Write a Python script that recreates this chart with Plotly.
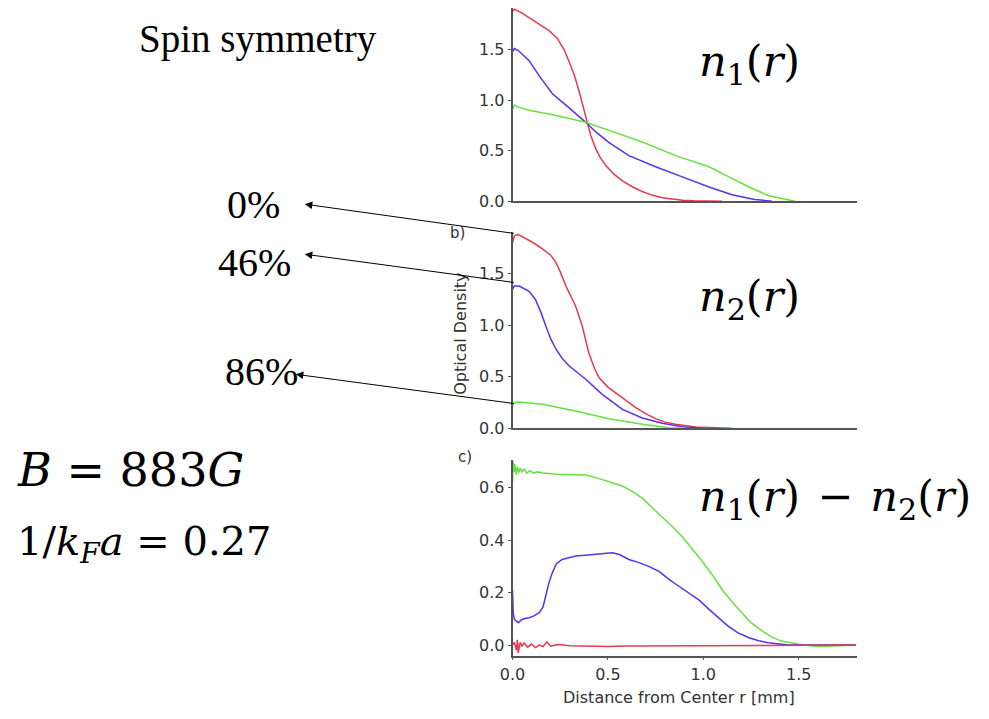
import plotly.graph_objects as go

# ---------------- data ----------------
# panel a: n1(r)
a_red_r = [0, 0.01, 0.05, 0.1, 0.15, 0.19, 0.235, 0.27, 0.297, 0.325, 0.35, 0.37, 0.384, 0.41, 0.436, 0.46, 0.49, 0.53, 0.576, 0.63, 0.68, 0.73, 0.785, 0.84, 0.89, 0.95, 1.03, 1.1]
a_red_y = [1.88, 1.90, 1.86, 1.80, 1.74, 1.69, 1.61, 1.50, 1.38, 1.24, 1.08, 0.94, 0.815, 0.65, 0.52, 0.43, 0.35, 0.27, 0.20, 0.14, 0.096, 0.06, 0.033, 0.018, 0.01, 0.004, 0.0, 0.0]
a_blue_r = [0, 0.01, 0.03, 0.087, 0.14, 0.21, 0.28, 0.33, 0.384, 0.44, 0.506, 0.61, 0.75, 0.89, 1.03, 1.15, 1.27, 1.36]
a_blue_y = [1.48, 1.51, 1.49, 1.39, 1.24, 1.06, 0.95, 0.87, 0.78, 0.68, 0.58, 0.45, 0.34, 0.24, 0.14, 0.063, 0.017, 0.0]
a_green_r = [0, 0.01, 0.03, 0.087, 0.21, 0.384, 0.506, 0.68, 0.855, 1.03, 1.134, 1.24, 1.34, 1.43, 1.48]
a_green_y = [0.91, 0.95, 0.93, 0.90, 0.855, 0.78, 0.70, 0.585, 0.45, 0.34, 0.24, 0.14, 0.056, 0.017, 0.0]

# panel b: n2(r)
b_red_r = [0, 0.01, 0.03, 0.1, 0.157, 0.2, 0.227, 0.25, 0.28, 0.33, 0.366, 0.38, 0.40, 0.43, 0.454, 0.5, 0.54, 0.6, 0.646, 0.7, 0.75, 0.8, 0.855, 0.96, 1.06, 1.15]
b_red_y = [1.80, 1.87, 1.88, 1.81, 1.74, 1.68, 1.61, 1.52, 1.38, 1.19, 0.99, 0.88, 0.73, 0.58, 0.49, 0.40, 0.346, 0.26, 0.20, 0.14, 0.094, 0.06, 0.039, 0.013, 0.003, 0.0]
b_blue_r = [0, 0.01, 0.035, 0.087, 0.12, 0.15, 0.175, 0.2, 0.227, 0.26, 0.297, 0.384, 0.47, 0.576, 0.68, 0.785, 0.89, 0.995]
b_blue_y = [1.35, 1.38, 1.38, 1.33, 1.25, 1.12, 0.99, 0.87, 0.77, 0.68, 0.605, 0.476, 0.33, 0.184, 0.10, 0.049, 0.016, 0.0]
b_green_r = [0, 0.01, 0.035, 0.157, 0.33, 0.506, 0.68, 0.82, 0.9]
b_green_y = [0.22, 0.25, 0.255, 0.233, 0.168, 0.094, 0.039, 0.006, 0.0]

# panel c: n1(r) - n2(r)
c_green_r = [0, 0.003, 0.007, 0.012, 0.018, 0.025, 0.032, 0.04, 0.05, 0.06, 0.075, 0.09, 0.11, 0.13, 0.157, 0.2, 0.25, 0.296, 0.34, 0.383, 0.43, 0.47, 0.52, 0.575, 0.63, 0.68, 0.73, 0.784, 0.84, 0.888, 0.94, 0.993, 1.05, 1.10, 1.15, 1.20, 1.25, 1.31, 1.36, 1.41, 1.46, 1.50, 1.55, 1.60, 1.65, 1.70, 1.75, 1.80]
c_green_y = [0.62, 0.70, 0.66, 0.69, 0.65, 0.68, 0.655, 0.675, 0.66, 0.67, 0.655, 0.665, 0.655, 0.66, 0.656, 0.652, 0.65, 0.65, 0.65, 0.648, 0.64, 0.63, 0.62, 0.606, 0.585, 0.56, 0.525, 0.49, 0.45, 0.415, 0.37, 0.32, 0.265, 0.21, 0.165, 0.123, 0.085, 0.053, 0.03, 0.015, 0.007, 0.003, -0.002, -0.006, -0.005, -0.003, -0.002, 0.0]
c_blue_r = [0, 0.004, 0.01, 0.02, 0.03, 0.045, 0.06, 0.087, 0.11, 0.14, 0.16, 0.174, 0.19, 0.209, 0.23, 0.26, 0.3, 0.33, 0.38, 0.435, 0.48, 0.523, 0.56, 0.61, 0.66, 0.714, 0.77, 0.82, 0.87, 0.923, 0.98, 1.03, 1.08, 1.13, 1.18, 1.24, 1.29, 1.34, 1.4, 1.45, 1.52, 1.6, 1.7, 1.8]
c_blue_y = [0.21, 0.12, 0.098, 0.09, 0.085, 0.095, 0.10, 0.104, 0.11, 0.123, 0.145, 0.187, 0.235, 0.276, 0.31, 0.326, 0.335, 0.339, 0.342, 0.345, 0.35, 0.352, 0.345, 0.326, 0.315, 0.30, 0.28, 0.25, 0.225, 0.20, 0.17, 0.136, 0.105, 0.072, 0.047, 0.028, 0.016, 0.009, 0.004, 0.0, 0.0, 0.0, 0.0, 0.0]
c_red_r = [0, 0.01, 0.02, 0.025, 0.03, 0.04, 0.05, 0.06, 0.08, 0.1, 0.12, 0.14, 0.16, 0.18, 0.2, 0.24, 0.3, 0.4, 0.5, 0.6, 0.8, 1.0, 1.2, 1.4, 1.6, 1.8]
c_red_y = [0.0, 0.01, -0.02, 0.02, -0.03, 0.01, -0.005, 0.008, -0.008, 0.004, -0.01, 0.0, -0.006, 0.012, -0.004, 0.002, -0.003, -0.005, -0.006, -0.004, -0.003, -0.002, -0.001, 0.0, 0.0, 0.0]

x_ticks = [0.0, 0.5, 1.0, 1.5]
a_ticks = [0.0, 0.5, 1.0, 1.5]
c_ticks = [0.0, 0.2, 0.4, 0.6]

RED = "#e63a50"
BLUE = "#5b30ee"
GREEN = "#68e040"

# page is 989x719; body has an 8px margin, so the figure is 973x703
W, H = 973, 703
SX, SY = 0.988, 0.985
OX, OY = 17.8, 9.0


def px(x):
    return ((x - OX) / SX) / W


def py(y):
    return 1 - ((y - OY) / SY) / H


fig = go.Figure()

panels = [
    ("", "y", [(a_red_r, a_red_y, RED), (a_blue_r, a_blue_y, BLUE), (a_green_r, a_green_y, GREEN)]),
    ("2", "y2", [(b_red_r, b_red_y, RED), (b_blue_r, b_blue_y, BLUE), (b_green_r, b_green_y, GREEN)]),
    ("3", "y3", [(c_green_r, c_green_y, GREEN), (c_blue_r, c_blue_y, BLUE), (c_red_r, c_red_y, RED)]),
]
for suf, yname, series in panels:
    for r, y, col in series:
        fig.add_trace(go.Scatter(x=r, y=y, mode="lines", line=dict(color=col, width=1.5),
                                 xaxis="x" + suf, yaxis=yname, showlegend=False, hoverinfo="skip"))

xdom = [px(510), px(855)]
sans = "DejaVu Sans, Liberation Sans, Arial, sans-serif"
tickfont = dict(family=sans, size=16, color="#333")
axcommon = dict(showgrid=False, zeroline=False, showline=True, linecolor="#555", linewidth=1.8,
                ticks="outside", ticklen=3, tickcolor="#555", tickfont=tickfont)

fig.update_layout(
    width=W, height=H, margin=dict(l=0, r=0, t=0, b=0),
    paper_bgcolor="white", plot_bgcolor="white",
    xaxis=dict(domain=xdom, range=[0, 1.806], anchor="y", showticklabels=False, ticks="",
               showgrid=False, zeroline=False, showline=True, linecolor="#555", linewidth=1.5),
    xaxis2=dict(domain=xdom, range=[0, 1.806], anchor="y2", showticklabels=False, ticks="",
                showgrid=False, zeroline=False, showline=True, linecolor="#555", linewidth=1.5),
    xaxis3=dict(domain=xdom, range=[0, 1.806], anchor="y3", tickvals=x_ticks,
                ticktext=["%.1f" % v for v in x_ticks], **axcommon),
    yaxis=dict(domain=[py(202), py(9)], range=[0, 1.911], anchor="x", tickvals=a_ticks,
               ticktext=["%.1f" % v for v in a_ticks], **axcommon),
    yaxis2=dict(domain=[py(429), py(233)], range=[0, 1.903], anchor="x2", tickvals=a_ticks,
                ticktext=["%.1f" % v for v in a_ticks], **axcommon),
    yaxis3=dict(domain=[py(656), py(461)], range=[-0.04, 0.704], anchor="x3", tickvals=c_ticks,
                ticktext=["%.1f" % v for v in c_ticks], **axcommon),
)

times = "Liberation Serif, Times New Roman, serif"
mathf = "DejaVu Serif, serif"
ann = []


def text(x, y, s, size, family=times, xanchor="center", color="black", angle=0):
    ann.append(dict(x=px(x), y=py(y), xref="paper", yref="paper", text=s, showarrow=False,
                    xanchor=xanchor, yanchor="middle", font=dict(family=family, size=size, color=color),
                    textangle=angle))


text(255, 40, "Spin symmetry", 39)
text(251, 205, "0%", 40)
text(252, 263, "46%", 40)
text(259, 372, "86%", 40)
text(12, 471, "<i>B</i> = 883<i>G</i>", 46, family=mathf, xanchor="left")
text(12, 545, "1/<i>k</i><sub><i>F</i></sub><i>a</i> = 0.27", 40, family=mathf, xanchor="left")
text(695, 65, "<i>n</i><sub>1</sub>(<i>r</i>)", 43, family=mathf, xanchor="left")
text(695, 300, "<i>n</i><sub>2</sub>(<i>r</i>)", 43, family=mathf, xanchor="left")
text(695, 500, "<i>n</i><sub>1</sub>(<i>r</i>)&#8201;&#8201;−&#8201;&#8201;<i>n</i><sub>2</sub>(<i>r</i>)", 43,
     family=mathf, xanchor="left")
text(455, 234, "b)", 15, family=sans, color="#333")
text(462, 458, "c)", 15, family=sans, color="#333")
text(458, 335, "Optical Density", 16, family=sans, color="#333", angle=-90)
text(677, 698, "Distance from Center r [mm]", 16, family=sans, color="#333")

# arrows: tip at label, tail at curve start (tail given as pixel offset from tip)
arrows = [((302, 205), (510, 234)), ((302, 255), (510, 283)), ((293, 375), (510, 404))]
for (tx, ty), (sx, sy) in arrows:
    ann.append(dict(x=px(tx), y=py(ty), xref="paper", yref="paper", ax=(sx - tx) / SX, ay=(sy - ty) / SY,
                    axref="pixel", ayref="pixel", text="", showarrow=True, arrowhead=2,
                    arrowsize=1.5, arrowwidth=1, arrowcolor="black"))

fig.update_layout(annotations=ann)
fig.write_html("out.html")
